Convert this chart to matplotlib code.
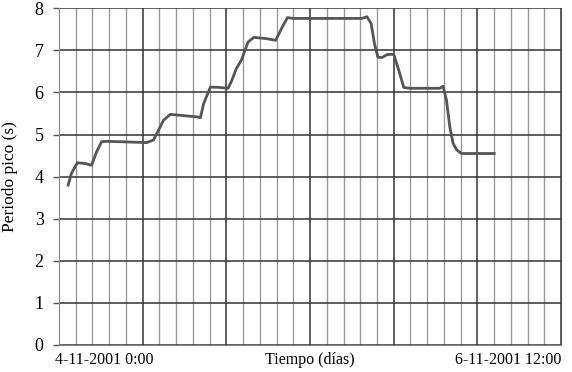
import matplotlib.pyplot as plt
from matplotlib.ticker import MultipleLocator

plt.rcParams['font.family'] = ['Liberation Serif', 'DejaVu Serif']

# horas desde 4-11-2001 0:00
horas = [1.1, 1.5, 2.2, 3.2, 3.9, 4.5, 5.1, 5.7, 10.5, 11.3, 12.5, 13.3, 16.5, 16.9,
         17.3, 18.1, 19.2, 20.2, 20.6, 21.2, 21.8, 22.6, 23.3, 24.8, 25.9, 26.7,
         27.3, 28.0, 36.2, 36.8, 37.3, 37.7, 38.1, 38.6, 39.2, 40.0, 40.6, 41.2,
         41.9, 45.5, 45.9, 46.3, 46.7, 47.1, 47.5, 48.1, 52.0]
periodo = [3.80, 4.08, 4.33, 4.31, 4.27, 4.59, 4.83, 4.84, 4.81, 4.87, 5.34, 5.48, 5.42, 5.40,
           5.74, 6.13, 6.12, 6.10, 6.26, 6.57, 6.77, 7.20, 7.31, 7.28, 7.24, 7.56,
           7.78, 7.76, 7.76, 7.80, 7.64, 7.16, 6.84, 6.83, 6.90, 6.91, 6.53, 6.12,
           6.10, 6.10, 6.15, 5.82, 5.18, 4.79, 4.64, 4.55, 4.55]

etiquetas_x = ["4-11-2001 0:00", "Tiempo (días)", "6-11-2001 12:00"]

fig = plt.figure(figsize=(5.72, 3.72), dpi=100)
ax = fig.add_axes([0.103, 0.0726, 0.878, 0.905])

ax.set_xlim(0, 60)
ax.set_ylim(0, 8)
ax.xaxis.set_major_locator(MultipleLocator(10))
ax.xaxis.set_minor_locator(MultipleLocator(2))
ax.yaxis.set_major_locator(MultipleLocator(1))

ax.grid(which='minor', axis='x', color='#9a9a9a', lw=1.0)
ax.grid(which='major', axis='x', color='#333333', lw=1.1)
ax.grid(which='major', axis='y', color='#333333', lw=1.1)
ax.set_axisbelow(True)

for s in ['left', 'bottom']:
    ax.spines[s].set_color('#888888')
ax.spines['right'].set_color('#555555')
ax.spines['top'].set_visible(False)

ax.plot(horas, periodo, color='#555555', lw=2.0, solid_joinstyle='round')

ax.tick_params(axis='x', which='both', length=0, labelbottom=False)
ax.tick_params(axis='y', length=4, width=1, color='#555555', labelsize=13, pad=7)
ax.set_ylabel("Periodo pico (s)", fontsize=12.5, labelpad=12)

tr = ax.get_xaxis_transform()
ax.text(-0.5, -0.022, etiquetas_x[0], transform=tr, ha='left', va='top', fontsize=11.5)
ax.text(30, -0.022, etiquetas_x[1], transform=tr, ha='center', va='top', fontsize=11.5)
ax.text(60, -0.022, etiquetas_x[2], transform=tr, ha='right', va='top', fontsize=11.5)

fig.savefig("out.png", dpi=100)
